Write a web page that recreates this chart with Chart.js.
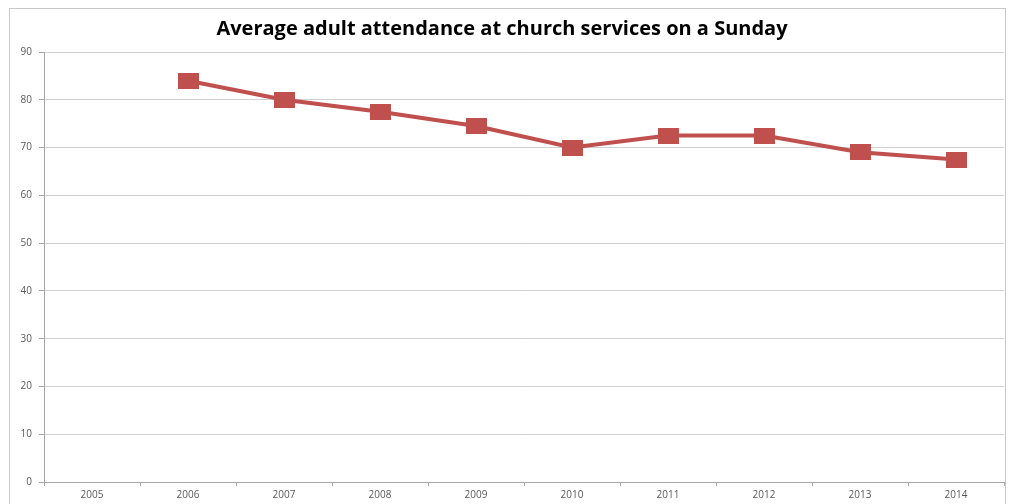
<!DOCTYPE html>
<html>
<head>
<meta charset="utf-8">
<script src="https://cdn.jsdelivr.net/npm/chart.js@4.4.1/dist/chart.umd.min.js"></script>
<style>
  html, body { margin: 0; padding: 0; background: #fff; }
  #wrap { width: 1009px; height: 504px; }
</style>
</head>
<body>
<div id="wrap"><canvas id="churchChart" width="1009" height="504"></canvas></div>
<script>
// dados do gráfico
const years = ['2005', '2006', '2007', '2008', '2009', '2010', '2011', '2012', '2013', '2014'];
const attendance = [null, 84, 80, 77.5, 74.5, 70, 72.5, 72.5, 69, 67.5];
const yTicks = [0, 10, 20, 30, 40, 50, 60, 70, 80, 90];

const chartTitle = 'Average adult attendance at church services on a Sunday';
const lineColor = '#C0504D';

// marcador quadrado, um pouco achatado como no original
function makeMarker() {
    const c = document.createElement('canvas');
    c.width = 21;
    c.height = 16;
    const ctx = c.getContext('2d');
    ctx.fillStyle = lineColor;
    ctx.fillRect(0, 0, 21, 16);
    return c;
}

// moldura cinza em volta do gráfico
const framePlugin = {
    id: 'frame',
    beforeDraw(chart) {
        const ctx = chart.ctx;
        ctx.save();
        ctx.strokeStyle = '#C8C8C8';
        ctx.lineWidth = 1;
        ctx.strokeRect(9.5, 8.5, 996, 510);
        ctx.restore();
    }
};

document.addEventListener('DOMContentLoaded', function() {
    const ctx = document.getElementById('churchChart').getContext('2d');
    const marker = makeMarker();

    new Chart(ctx, {
        type: 'line',
        data: {
            labels: years,
            datasets: [{
                data: attendance,
                borderColor: lineColor,
                backgroundColor: lineColor,
                borderWidth: 4,
                pointStyle: marker,
                pointRadius: 10,
                pointHoverRadius: 10,
                tension: 0,
                spanGaps: false
            }]
        },
        options: {
            responsive: false,
            animation: false,
            layout: {
                autoPadding: false,
                padding: { left: 0, right: 5, top: 0, bottom: 0 }
            },
            plugins: {
                legend: { display: false },
                tooltip: { enabled: false },
                title: {
                    display: true,
                    text: chartTitle,
                    color: '#000',
                    font: { family: 'Open Sans', size: 20, weight: 'bold' },
                    padding: { top: 17, bottom: 11 }
                }
            },
            scales: {
                x: {
                    offset: true,
                    grid: {
                        offset: true,
                        drawOnChartArea: false,
                        drawTicks: true,
                        tickLength: 4,
                        color: '#A6A6A6'
                    },
                    border: { color: '#A6A6A6' },
                    ticks: {
                        color: '#595959',
                        font: { family: 'Open Sans', size: 10 },
                        padding: 3,
                        maxRotation: 0,
                        autoSkip: false
                    },
                    afterFit(scale) {
                        scale.height = 22;
                        scale.paddingLeft = 0;
                        scale.paddingRight = 0;
                    }
                },
                y: {
                    min: 0,
                    max: 90,
                    afterBuildTicks(scale) {
                        scale.ticks = yTicks.map(v => ({ value: v }));
                    },
                    grid: {
                        color: '#D0D0D0',
                        tickLength: 5,
                        tickColor: '#A6A6A6'
                    },
                    border: { color: '#A6A6A6' },
                    ticks: {
                        color: '#595959',
                        font: { family: 'Open Sans', size: 10 },
                        padding: 7
                    },
                    afterFit(scale) { scale.width = 44; }
                }
            }
        },
        plugins: [framePlugin]
    });
});
</script>
</body>
</html>
